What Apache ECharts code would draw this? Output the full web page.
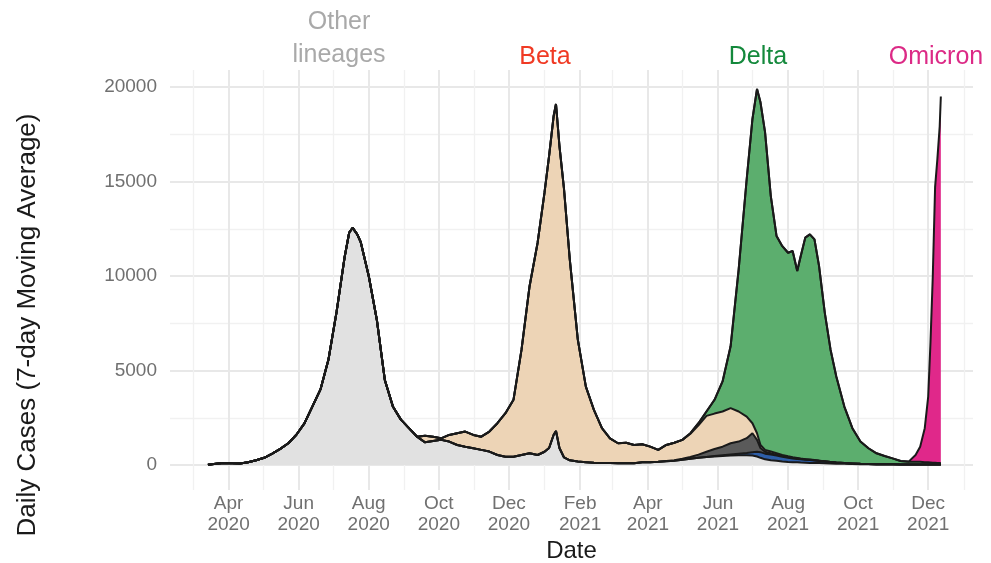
<!DOCTYPE html>
<html>
<head>
<meta charset="utf-8">
<script src="https://cdn.jsdelivr.net/npm/echarts@6/dist/echarts.min.js"></script>
<style>
html,body{margin:0;padding:0;background:#fff;}
#chart{width:991px;height:563px;}
</style>
</head>
<body>
<div id="chart"></div>
<script>
// ---- data (7-day moving average of daily cases, stacked by lineage) ----
const dates = [
 '2020-03-14','2020-03-21','2020-03-28','2020-04-04','2020-04-11','2020-04-18','2020-04-25',
 '2020-05-02','2020-05-09','2020-05-16','2020-05-23','2020-05-30','2020-06-06','2020-06-13',
 '2020-06-20','2020-06-27','2020-07-04','2020-07-11','2020-07-15','2020-07-18','2020-07-22',
 '2020-07-25','2020-08-01','2020-08-08','2020-08-15','2020-08-22','2020-08-29','2020-09-05',
 '2020-09-12','2020-09-19','2020-09-26','2020-10-03','2020-10-10','2020-10-17','2020-10-24',
 '2020-10-31','2020-11-07','2020-11-14','2020-11-21','2020-11-28','2020-12-05','2020-12-12',
 '2020-12-19','2020-12-26','2021-01-01','2021-01-05','2021-01-09','2021-01-11','2021-01-14',
 '2021-01-18','2021-01-23','2021-01-30','2021-02-06','2021-02-13','2021-02-20','2021-02-27',
 '2021-03-06','2021-03-13','2021-03-20','2021-03-27','2021-04-03','2021-04-10','2021-04-17',
 '2021-04-24','2021-05-01','2021-05-08','2021-05-15','2021-05-22','2021-05-29','2021-06-05',
 '2021-06-12','2021-06-19','2021-06-26','2021-07-01','2021-07-05','2021-07-08','2021-07-12',
 '2021-07-17','2021-07-22','2021-07-27','2021-08-01','2021-08-05','2021-08-09','2021-08-12',
 '2021-08-16','2021-08-20','2021-08-24','2021-08-28','2021-09-02','2021-09-07','2021-09-12',
 '2021-09-19','2021-09-26','2021-10-03','2021-10-10','2021-10-17','2021-10-24','2021-10-31',
 '2021-11-07','2021-11-14','2021-11-20','2021-11-24','2021-11-28','2021-12-01','2021-12-03',
 '2021-12-05','2021-12-07','2021-12-09','2021-12-11','2021-12-12'
];
const otherLineages = [
 10,60,110,90,80,150,250,
 380,600,850,1150,1600,2200,3100,
 4000,5600,8100,11000,12300,12550,12200,
 11800,10000,7700,4500,3100,2400,1950,
 1500,1200,1270,1330,1240,1060,970,
 885,800,710,530,440,440,530,
 620,530,700,900,1600,1800,900,
 400,250,180,150,120,100,100,
 90,90,90,150,150,170,200,
 230,280,330,380,420,450,480,
 500,520,520,500,450,380,300,
 250,220,180,160,150,140,130,
 120,110,100,100,90,80,70,
 60,50,40,40,30,30,30,
 25,25,20,20,20,20,20,
 20,20,20,20,20
];
const blueLineage = [
 0,0,0,0,0,0,0, 0,0,0,0,0,0,0, 0,0,0,0,0,0,0, 0,0,0,0,0,0,0,
 0,0,0,0,0,0,0, 0,0,0,0,0,0,0, 0,0,0,0,0,0,0, 0,0,0,0,0,0,0,
 0,0,0,0,0,0,0,
 0,0,0,0,0,20,40,
 60,80,120,180,250,300,300,
 300,280,250,220,200,180,170,
 160,150,140,120,100,80,60,
 40,30,20,10,10,5,5,
 0,0,0,0,0,0,0,
 0,0,0,0,0
];
const darkLineage = [
 0,0,0,0,0,0,0, 0,0,0,0,0,0,0, 0,0,0,0,0,0,0, 0,0,0,0,0,0,0,
 0,0,0,0,0,0,0, 0,0,0,0,0,0,0, 0,0,0,0,0,0,0, 0,0,0,0,0,0,0,
 0,0,0,0,0,0,10,
 20,50,90,170,280,380,450,
 590,640,780,1000,630,220,100,
 70,50,50,40,30,30,20,
 20,20,10,10,10,0,0,
 0,0,0,0,0,0,0,
 0,0,0,0,0,0,0,
 0,0,0,0,0
];
const beta = [
 0,0,0,0,0,0,0, 0,0,0,0,0,0,0, 0,0,0,0,0,0,0, 0,0,0,0,0,0,0,
 0,350,220,80,350,620,800,
 705,700,1060,1680,2300,3010,5570,
 8840,11230,13710,15450,16880,17300,15990,
 14190,10630,6450,4000,2800,1850,1310,
 1060,1090,970,950,820,630,850,
 930,1000,1230,1550,1900,1870,1860,
 1860,1590,1140,530,350,160,100,
 90,70,50,40,30,20,20,
 10,10,10,0,0,0,0,
 0,0,0,0,0,0,0,
 0,0,0,0,0,0,0,
 0,0,0,0,0
];
const delta = [
 0,0,0,0,0,0,0, 0,0,0,0,0,0,0, 0,0,0,0,0,0,0, 0,0,0,0,0,0,0,
 0,0,0,0,0,0,0, 0,0,0,0,0,0,0, 0,0,0,0,0,0,0, 0,0,0,0,0,0,0,
 0,0,0,0,0,0,0,
 0,0,30,110,230,730,1590,
 3270,7510,12560,16090,18220,18130,16800,
 13520,11490,11050,10770,10910,9890,10710,
 11720,11910,11680,10290,7850,5940,4550,
 2990,1870,1180,835,580,445,315,
 185,145,150,150,130,120,110,
 100,100,90,80,80
];
const omicron = [
 0,0,0,0,0,0,0, 0,0,0,0,0,0,0, 0,0,0,0,0,0,0, 0,0,0,0,0,0,0,
 0,0,0,0,0,0,0, 0,0,0,0,0,0,0, 0,0,0,0,0,0,0, 0,0,0,0,0,0,0,
 0,0,0,0,0,0,0, 0,0,0,0,0,0,0, 0,0,0,0,0,0,0, 0,0,0,0,0,0,0,
 0,0,0,0,0,0,0, 0,0,0,0,0,0,0,
 0,10,360,800,1800,3480,6370,
 9880,14580,16090,17800,19400
];
const yTicks = [0, 5000, 10000, 15000, 20000];
const majorMonths = ['2020-04-01','2020-06-01','2020-08-01','2020-10-01','2020-12-01','2021-02-01',
 '2021-04-01','2021-06-01','2021-08-01','2021-10-01','2021-12-01'];
const minorMonths = ['2020-03-01','2020-05-01','2020-07-01','2020-09-01','2020-11-01','2021-01-01',
 '2021-03-01','2021-05-01','2021-07-01','2021-09-01','2021-11-01','2022-01-01'];
const monthNames = ['Jan','Feb','Mar','Apr','May','Jun','Jul','Aug','Sep','Oct','Nov','Dec'];
const xMin = '2020-02-10', xMax = '2022-01-09';

// ---- helpers ----
function ts(s){ const p = s.split('-').map(Number); return new Date(p[0], p[1]-1, p[2]).getTime(); }
function pairs(arr){ return dates.map((d,i)=>[ts(d), arr[i]]); }

const FONT = '"Liberation Sans", Arial, Helvetica, sans-serif';
const GRID_MAJOR = '#e8e8e8', GRID_MINOR = '#f1f1f1';
const LINE = '#1a1a1a';

function areaSeries(name, arr, color){
  return {
    name, type:'line', stack:'total', data:pairs(arr),
    xAxisIndex:0, yAxisIndex:0,
    symbol:'none', smooth:false, silent:true,
    lineStyle:{color:LINE, width:2},
    areaStyle:{color, opacity:1}
  };
}

const chart = echarts.init(document.getElementById('chart'), null, {renderer:'canvas'});
chart.setOption({
  animation:false,
  backgroundColor:'#ffffff',
  grid:[
    {left:170, right:18, top:87, bottom:98, containLabel:false, outerBoundsMode:'none'},
    {left:170, right:18, top:70, bottom:73, containLabel:false, outerBoundsMode:'none'}
  ],
  xAxis:[
    {type:'time', gridIndex:0, min:ts(xMin), max:ts(xMax), show:false},
    {type:'value', gridIndex:1, min:ts(xMin), max:ts(xMax),
      axisLine:{show:false}, axisTick:{show:false, customValues:majorMonths.map(ts)},
      splitLine:{show:true, lineStyle:{color:GRID_MAJOR, width:2}},
      axisLabel:{customValues:majorMonths.map(ts), color:'#707070', fontSize:19, lineHeight:21,
        fontFamily:FONT, margin:3,
        formatter:v=>{const d=new Date(v); return monthNames[d.getMonth()]+'\n'+d.getFullYear();}},
      name:'Date', nameLocation:'middle', nameGap:49, nameMoveOverlap:false,
      nameTextStyle:{color:'#1a1a1a', fontSize:24, fontFamily:FONT}
    },
    {type:'value', gridIndex:1, min:ts(xMin), max:ts(xMax),
      axisLine:{show:false}, axisTick:{show:false, customValues:minorMonths.map(ts)},
      axisLabel:{show:false, customValues:minorMonths.map(ts)},
      splitLine:{show:true, lineStyle:{color:GRID_MINOR, width:1.3}}
    }
  ],
  yAxis:[
    {type:'value', gridIndex:0, min:yTicks[0], max:yTicks[yTicks.length-1], interval:5000,
      axisLine:{show:false}, axisTick:{show:false},
      axisLabel:{color:'#707070', fontSize:19, fontFamily:FONT, margin:13, formatter:v=>String(v)},
      splitLine:{show:true, lineStyle:{color:GRID_MAJOR, width:2}},
      minorTick:{show:false, splitNumber:2},
      minorSplitLine:{show:true, lineStyle:{color:GRID_MINOR, width:1.3}}
    },
    {type:'value', gridIndex:1, min:0, max:1, show:false}
  ],
  series:[
    areaSeries('Other lineages', otherLineages, '#e1e1e1'),
    areaSeries('C.1.2', blueLineage, '#2e5ea8'),
    areaSeries('Alpha', darkLineage, '#5a5a5a'),
    areaSeries('Beta', beta, '#edd4b6'),
    areaSeries('Delta', delta, '#5cae6e'),
    areaSeries('Omicron', omicron, '#e0288a')
  ],
  graphic:[
    {type:'text', x:28, y:325, rotation:Math.PI/2,
      style:{text:'Daily Cases (7-day Moving Average)', fill:'#1a1a1a', font:'26px '+FONT,
        align:'center', verticalAlign:'middle', textAlign:'center', textVerticalAlign:'middle'}},
    {type:'text', x:339, y:22, style:{text:'Other', fill:'#a9a9a9', font:'25px '+FONT, align:'center', verticalAlign:'middle'}},
    {type:'text', x:339, y:55, style:{text:'lineages', fill:'#a9a9a9', font:'25px '+FONT, align:'center', verticalAlign:'middle'}},
    {type:'text', x:545, y:57, style:{text:'Beta', fill:'#f03a24', font:'25px '+FONT, align:'center', verticalAlign:'middle'}},
    {type:'text', x:758, y:57, style:{text:'Delta', fill:'#14893c', font:'25px '+FONT, align:'center', verticalAlign:'middle'}},
    {type:'text', x:936, y:57, style:{text:'Omicron', fill:'#dc2a86', font:'25px '+FONT, align:'center', verticalAlign:'middle'}}
  ]
});
</script>
</body>
</html>
